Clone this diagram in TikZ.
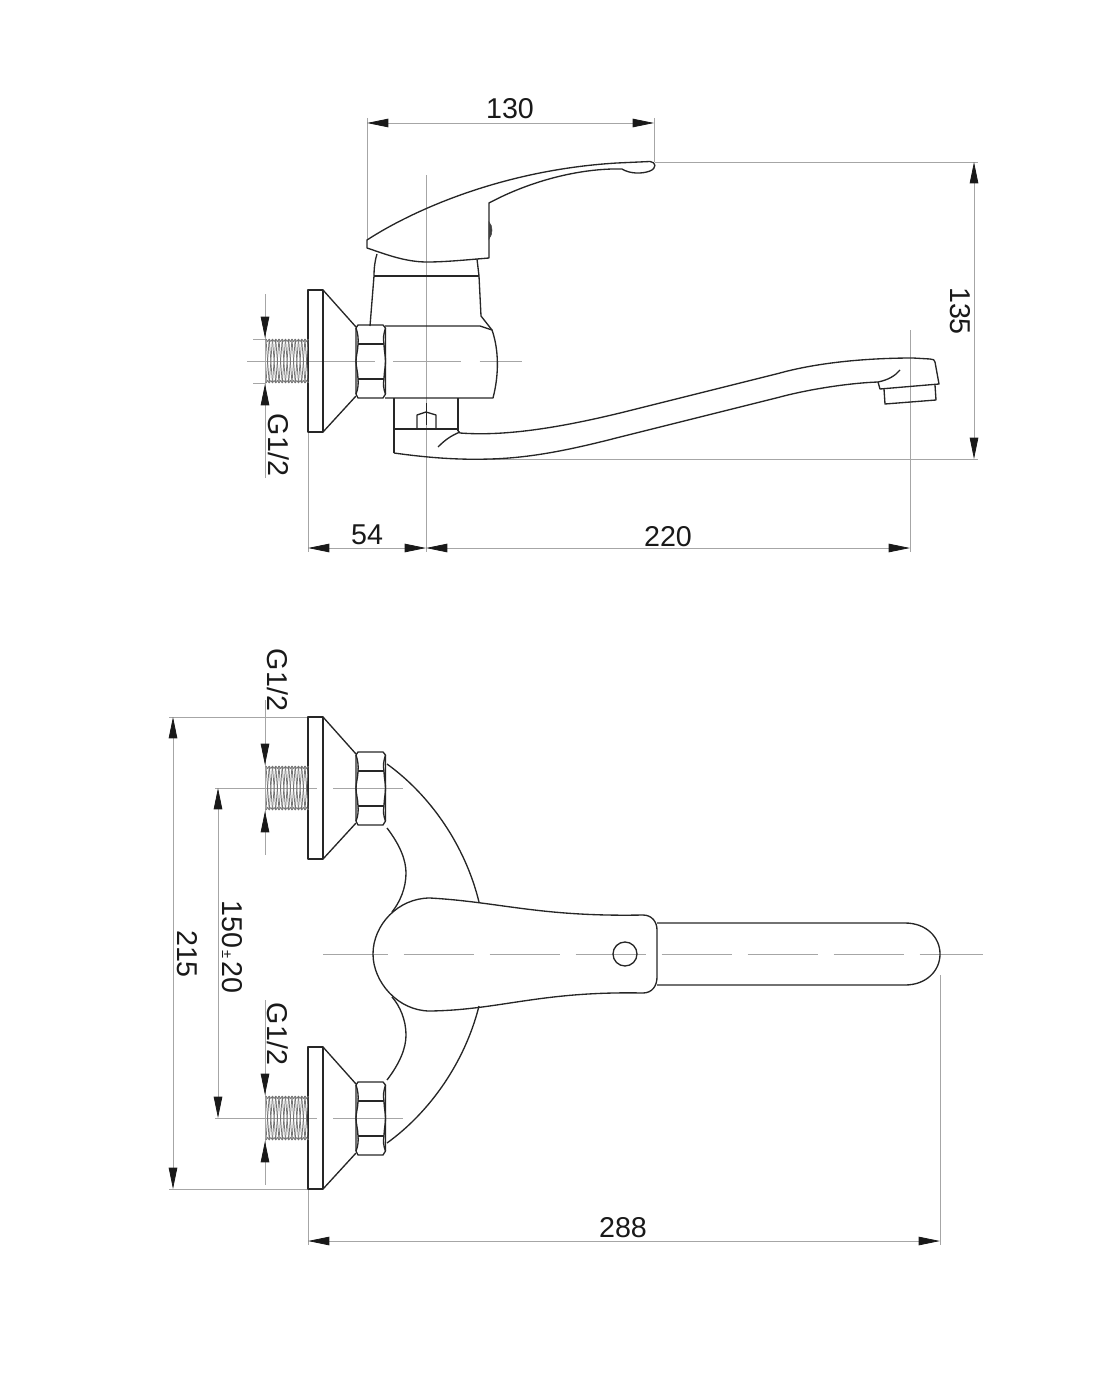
\documentclass[tikz,border=0pt]{standalone}
\usepackage{fontspec}
\setmainfont{Liberation Sans}
\usetikzlibrary{arrows.meta}
\tikzset{
    part/.style={draw=black!85, line width=1pt, line join=round},
    thinline/.style={draw=black!35, line width=0.6pt},
    centerline/.style={draw=black!35, line width=0.6pt},
    threadline/.style={draw=black!55, line width=0.55pt},
    dimtip/.tip={Triangle[length=16pt, width=6.4pt, color=black!90]},
    dimline/.style={thinline, dimtip-dimtip},
    dimhead/.style={thinline, -dimtip},
    dimlabel/.style={inner sep=0pt, font=\fontsize{21.5}{24}\selectfont, text=black!90},
    fitting/.pic={
        % flange and cone
        \draw[part] (308,-71) rectangle (323,71);
        \draw[part] (323,-71) -- (356,-34);
        \draw[part] (356,35) -- (323,71);
        % nut
        \draw[part] (356,-33) -- (358,-36) -- (383,-36) -- (385.5,-33) -- (385.5,33) -- (383,37) -- (358,37) -- (356,33) -- cycle;
        \draw[part] (358,-17) -- (384,-17);
        \draw[part] (358,18) -- (384,18);
        \draw[part] (356,-33) .. controls (358,-27) and (358.5,-22) .. (358,-17) .. controls (358,-11) and (356,-5) .. (356,0) .. controls (356,6) and (358,12) .. (358,18) .. controls (358.5,23) and (358,28) .. (356,33);
        \draw[part] (385.5,-33) .. controls (383.5,-27) and (383,-22) .. (384,-17) .. controls (384,-11) and (385.5,-5) .. (385.5,0) .. controls (385.5,6) and (384,12) .. (384,18) .. controls (383,23) and (383.5,28) .. (385.5,33);
        % thread
        \foreach \i in {0,...,12} {
            \draw[threadline] (266+3.25*\i,-22) -- (267.6+3.25*\i,-19.5) -- (269.2+3.25*\i,-22);
            \draw[threadline] (266+3.25*\i,22) -- (267.6+3.25*\i,19.5) -- (269.2+3.25*\i,22);
            \draw[threadline] (266+3.25*\i,-22) -- (269.2+3.25*\i,22);
            \draw[threadline] (269.2+3.25*\i,-22) -- (266+3.25*\i,22);
        }
        \draw[dimhead] (265,-45) -- (265,-23);
        \draw[dimhead] (265,45) -- (265,23);
    }
}
\begin{document}
\begin{tikzpicture}[x=0.75pt, y=-0.75pt]
    \useasboundingbox (0,0) rectangle (1100,1398);

    % Coordinates of the dimensions
    \coordinate (leverL) at (367,123);
    \coordinate (leverR) at (654,123);
    \coordinate (spoutT) at (974,162);
    \coordinate (spoutB) at (974,459);
    \coordinate (wallT) at (308,548);
    \coordinate (axisT) at (426,548);
    \coordinate (outletT) at (910,548);
    \coordinate (flangeT) at (173,717);
    \coordinate (flangeB) at (173,1189);
    \coordinate (inletT) at (218,788);
    \coordinate (inletB) at (218,1118);
    \coordinate (wallB) at (308,1241);
    \coordinate (handleB) at (940,1241);

    % Center and extension lines, side view
    \draw[centerline, dash pattern=on 96pt off 13.5pt on 51pt off 14pt on 32pt off 0pt] (247,361) -- (522,361);
    \draw[thinline] (426,175) -- (426,552);
    \draw[thinline] (367,118) -- (367,240);
    \draw[thinline] (654,118) -- (654,162);
    \draw[thinline] (655,162) -- (978,162);
    \draw[thinline] (480,459) -- (978,459);
    \draw[thinline] (308,432) -- (308,552);
    \draw[thinline] (910,330) -- (910,552);
    \draw[thinline] (265,294) -- (265,478);
    \draw[thinline] (253,339) -- (266,339);
    \draw[thinline] (253,383) -- (266,383);

    % Center and extension lines, top view
    \draw[centerline, dash pattern=on 52.5pt off 12pt, dash phase=4pt] (323,954) -- (983,954);
    \draw[thinline] (169,717) -- (308,717);
    \draw[thinline] (169,1189) -- (308,1189);
    \draw[thinline] (215,788) -- (317,788);
    \draw[thinline] (333,788) -- (403,788);
    \draw[thinline] (215,1118) -- (317,1118);
    \draw[thinline] (333,1118) -- (403,1118);
    \draw[thinline] (308,1189) -- (308,1245);
    \draw[thinline] (940,975) -- (940,1245);
    \draw[thinline] (265,700) -- (265,855);
    \draw[thinline] (265,1000) -- (265,1185);

    % Dimensions
    \draw[dimline] (leverL) -- (leverR);
    \draw[dimline] (spoutT) -- (spoutB);
    \draw[dimline] (wallT) -- (axisT);
    \draw[dimline] (axisT) -- (outletT);
    \draw[dimline] (flangeT) -- (flangeB);
    \draw[dimline] (inletT) -- (inletB);
    \draw[dimline] (wallB) -- (handleB);

    % Labels
    \node[dimlabel] (len130) at (510,109) {130};
    \node[dimlabel, rotate=-90] (len135) at (960,311) {135};
    \node[dimlabel] (len54) at (367,535) {54};
    \node[dimlabel] (len220) at (668,537) {220};
    \node[dimlabel, rotate=-90] (thrA) at (279,445) {G1/2};
    \node[dimlabel, rotate=-90] (thrB) at (278,680) {G1/2};
    \node[dimlabel, rotate=-90] (thrC) at (278,1034) {G1/2};
    \node[dimlabel, rotate=-90] (len215) at (187,954) {215};
    \node[dimlabel, rotate=-90] (len150) at (232,947) {150{\fontsize{11}{12}\selectfont\,±\,}20};
    \node[dimlabel] (len288) at (623,1228) {288};

    % Side view
    \pic at (0,361) {fitting};
    \draw[part] (367,240) .. controls (410,212) and (500,170) .. (617,163) -- (650,161.5)
        .. controls (656,162) and (657,168) .. (650,171) .. controls (642,174) and (630,174) .. (622,169)
        .. controls (580,168) and (530,181) .. (489,203) -- (489,258)
        .. controls (465,260) and (445,262) .. (427,262) .. controls (405,262) and (385,254) .. (367,248) -- cycle;
    \draw[draw=black!75, fill=black!75] (489,222) .. controls (493,226) and (493,234) .. (489,239) -- cycle;
    \draw[part] (377,254) .. controls (375,260) and (374,268) .. (374,276) -- (370,326);
    \draw[part] (477,259) -- (479,276) -- (481,316) -- (492,330);
    \draw[part] (374,276) -- (479,276);
    \draw[part] (385,326) -- (480,326) -- (492,330) .. controls (499,350) and (499,375) .. (493,398) -- (385,398);
    \draw[part] (394,398) -- (394,453);
    \draw[part] (458,398) -- (458,431);
    \draw[part] (394,429) -- (458,429);
    \draw[part] (417,429) -- (417,415) -- (426,412) -- (436,415) -- (436,429);
    \draw[line width=0.7pt, black!85] (426,403) -- (426,425);
    % spout
    \draw[part] (458,431) -- (460,433) .. controls (500,436) and (550,430) .. (620,413) -- (780,373)
        .. controls (820,362) and (870,358) .. (913,358) -- (930,359)
        .. controls (933,359) and (935,360) .. (935,362) -- (939,384) -- (880,389) -- (878,382);
    \draw[part] (394,453) .. controls (430,458) and (460,460) .. (490,459) .. controls (530,458) and (570,450) .. (620,437) -- (780,397)
        .. controls (810,389) and (850,383) .. (878,382);
    \draw[part] (878,382) .. controls (888,380) and (895,376) .. (900,370);
    \draw[part] (438,447) .. controls (444,441) and (450,436) .. (460,432);
    \draw[part] (884,389) -- (885,404) -- (936,400) -- (935,385);

    % Top view
    \pic at (0,788) {fitting};
    \pic at (0,1118) {fitting};
    \draw[part] (387,764) .. controls (430,795) and (465,845) .. (479,902);
    \draw[part] (387,828) .. controls (400,845) and (406,860) .. (406,873) .. controls (406,888) and (400,902) .. (392,912);
    \draw[part] (387,1143) .. controls (430,1112) and (465,1062) .. (479,1006);
    \draw[part] (387,1080) .. controls (400,1063) and (406,1048) .. (406,1035) .. controls (406,1020) and (400,1006) .. (392,997);
    \draw[part] (657,923) -- (905,923) .. controls (926,923) and (940,937) .. (940,954) .. controls (940,971) and (926,985) .. (905,985) -- (657,985);
    \draw[part] (373,954) .. controls (373,925) and (398,898) .. (430,898) .. controls (500,902) and (540,917) .. (643,915)
        .. controls (652,915) and (657,922) .. (657,930) -- (657,977) .. controls (657,986) and (652,993) .. (643,993)
        .. controls (540,991) and (500,1010) .. (430,1011) .. controls (398,1011) and (373,982) .. (373,954) -- cycle;
    \draw[part] (625,954) circle[radius=12];
\end{tikzpicture}
\end{document}
